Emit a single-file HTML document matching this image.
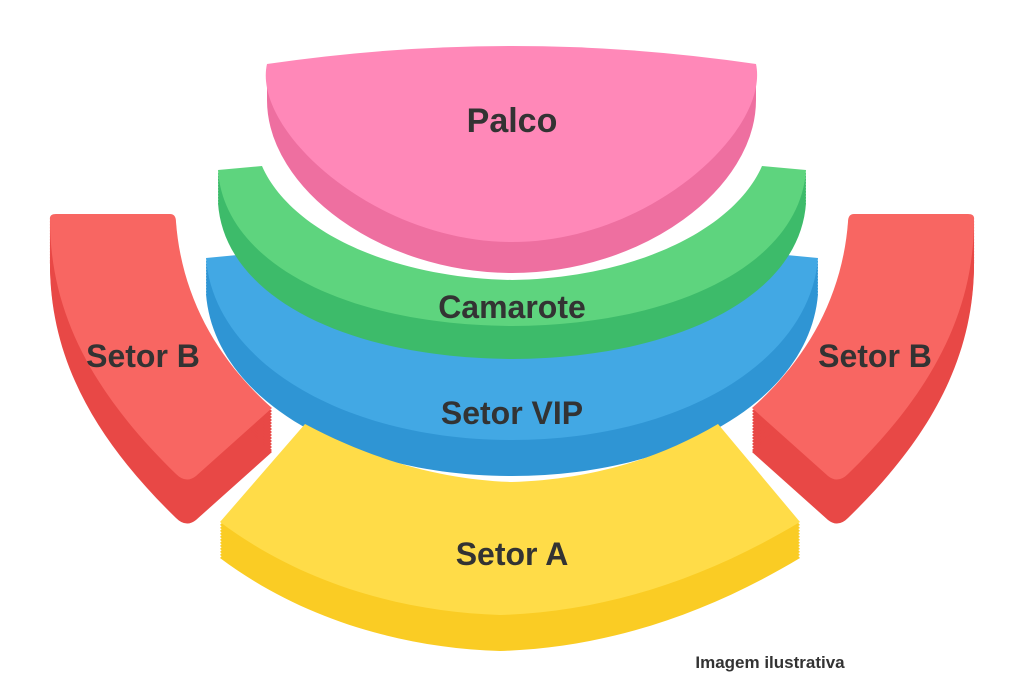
<!DOCTYPE html>
<html><head><meta charset="utf-8"><style>
html,body{margin:0;padding:0;background:#fff;width:1024px;height:692px;overflow:hidden}
svg text{font-family:"Liberation Sans",sans-serif;font-weight:bold;fill:#333}
</style></head><body>
<svg width="1024" height="692" viewBox="0 0 1024 692" xmlns="http://www.w3.org/2000/svg">
<defs>
<path id="sb" d="M50,220 Q49,214 56,214 L170,214 Q176,214 176,222 C182,300 220,362 272,408 L196,476 Q186,484 176,474 C100,400 50,320 50,220 Z"/>
<path id="ya" d="M305,424 C380,464 450,480 512,482 C580,480 650,464 718,424 L800,522 C700,582 600,612 500,615 C400,612 300,582 220,522 Z"/>
<path id="bl" d="M206,258 L248,254 C275,320 390,355 512,358 C634,355 748,320 776,254 L818,258 C810,362 680,440 512,440 C344,440 214,362 206,258 Z"/>
<path id="gr" d="M218,170 L262,166 C290,230 390,278 512,280 C634,278 734,230 762,166 L806,170 C800,262 680,325 512,326 C344,325 224,262 218,170 Z"/>
<g id="blx"><use href="#bl" y="3"/><use href="#bl" y="6"/><use href="#bl" y="9"/><use href="#bl" y="12"/><use href="#bl" y="15"/><use href="#bl" y="18"/><use href="#bl" y="21"/><use href="#bl" y="24"/><use href="#bl" y="27"/><use href="#bl" y="30"/><use href="#bl" y="33"/><use href="#bl" y="36"/></g>
<g id="grx"><use href="#gr" y="3"/><use href="#gr" y="6"/><use href="#gr" y="9"/><use href="#gr" y="12"/><use href="#gr" y="15"/><use href="#gr" y="18"/><use href="#gr" y="21"/><use href="#gr" y="24"/><use href="#gr" y="27"/><use href="#gr" y="30"/><use href="#gr" y="33"/></g>
<g id="yax"><use href="#ya" y="3"/><use href="#ya" y="6"/><use href="#ya" y="9"/><use href="#ya" y="12"/><use href="#ya" y="15"/><use href="#ya" y="18"/><use href="#ya" y="21"/><use href="#ya" y="24"/><use href="#ya" y="27"/><use href="#ya" y="30"/><use href="#ya" y="33"/><use href="#ya" y="36"/></g>
<g id="sbx"><use href="#sb" y="3"/><use href="#sb" y="6"/><use href="#sb" y="9"/><use href="#sb" y="12"/><use href="#sb" y="15"/><use href="#sb" y="18"/><use href="#sb" y="21"/><use href="#sb" y="24"/><use href="#sb" y="27"/><use href="#sb" y="30"/><use href="#sb" y="33"/><use href="#sb" y="36"/><use href="#sb" y="39"/><use href="#sb" y="42"/><use href="#sb" y="44"/></g>
</defs>
<use href="#blx" fill="#2F95D4"/>
<use href="#bl" fill="#42A8E4"/>
<use href="#grx" fill="#3DBB6A"/>
<use href="#gr" fill="#5ED47E"/>
<path d="M265,66 L265,100 C265,190 380,275 512,275 C644,275 758,190 758,100 L758,66 Q512,28 265,66 Z" fill="#EE6FA0" stroke="#fff" stroke-width="4"/>
<path d="M267,64 Q512,28 756,64 C770,130 650,242 512,242 C374,242 252,130 267,64 Z" fill="#FF88B8"/>
<use href="#sbx" fill="#E84846"/>
<use href="#sb" fill="#F86662"/>
<g transform="translate(1024,0) scale(-1,1)">
<use href="#sbx" fill="#E84846"/>
<use href="#sb" fill="#F86662"/>
</g>
<use href="#yax" fill="#FACC24"/>
<use href="#ya" fill="#FFDC48"/>
<text x="512" y="132" font-size="34" text-anchor="middle">Palco</text>
<text x="512" y="318" font-size="32" text-anchor="middle">Camarote</text>
<text x="512" y="424" font-size="32" text-anchor="middle">Setor VIP</text>
<text x="512" y="565" font-size="32" text-anchor="middle">Setor A</text>
<text x="143" y="367" font-size="32" text-anchor="middle">Setor B</text>
<text x="875" y="367" font-size="32" text-anchor="middle">Setor B</text>
<text x="770" y="668" font-size="17" text-anchor="middle">Imagem ilustrativa</text>
</svg>
</body></html>
